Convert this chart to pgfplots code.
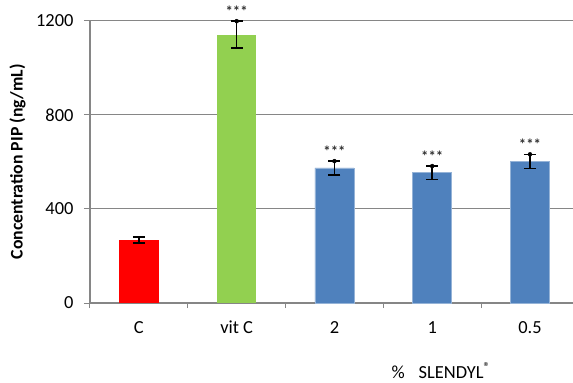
\documentclass[border=0pt]{standalone}
\usepackage{pgfplots}
\pgfplotsset{compat=1.18}
\usepackage{fontspec}
\setmainfont{Carlito}
\definecolor{gridgray}{HTML}{868686}
\definecolor{cred}{HTML}{FF0000}
\definecolor{cgreen}{HTML}{92D050}
\definecolor{cblue}{HTML}{4F81BD}
\definecolor{starcol}{HTML}{303030}
\begin{document}
\begin{tikzpicture}
\begin{axis}[
  scale only axis, width=483bp, height=282.3bp,
  xmin=-0.5, xmax=4.44, ymin=0, ymax=1200,
  clip=false,
  axis x line=bottom, axis y line=left,
  axis line style={-, draw=gridgray, line width=1.2bp},
  ytick={0,400,800,1200}, ymajorgrids,
  grid style={gridgray, line width=1bp},
  xtick={0,1,2,3,4}, xticklabels={C, vit C, 2, 1, 0.5},
  minor xtick={-0.5,0.5,1.5,2.5,3.5},
  x tick style={draw=none},
  minor x tick style={draw=gridgray, line width=1bp},
  y tick style={draw=gridgray, line width=1bp},
  tick align=outside, major tick length=6bp, minor tick length=5bp,
  tick label style={font=\fontsize{18.5}{21}\selectfont, text=black},
  /pgf/number format/assume math mode=true,
  /pgf/number format/1000 sep={},
  x tick label style={anchor=base, yshift=-24bp},
  y tick label style={xshift=-7bp},
  ylabel={Concentration PIP (ng/mL)},
  ylabel style={at={(axis description cs:-0.1501,0.5)}, anchor=center, font=\bfseries\fontsize{17.8}{20}\selectfont},
  xlabel={\%\hspace{14bp}SLENDYL\textsuperscript{®}},
  xlabel style={at={(axis description cs:0.617,-0.2657)}, anchor=base west, font=\fontsize{18.5}{21}\selectfont},
  error bars/y dir=both, error bars/y explicit,
  error bars/error bar style={line width=1.5bp, black},
  error bars/error mark options={rotate=90, mark size=6bp, line width=1.5bp, black},
]
\addplot[ybar, bar width=0.41, bar shift=0pt, fill=cred, draw=none]
  coordinates {(0,268) +- (0,13)};
\addplot[ybar, bar width=0.405, bar shift=0pt, fill=cgreen, draw=none]
  coordinates {(1,1141) +- (0,57)};
\addplot[ybar, bar width=0.40, bar shift=0pt, fill=cblue, draw=cblue!60!white, line width=0.6bp]
  coordinates {(2,574) +- (0,29) (3,554) +- (0,28) (4,602) +- (0,30)};
\addplot[only marks, mark=*, mark options={draw=none, fill=none},
  error bars/y dir=none,
  nodes near coords={***}, nodes near coords align={anchor=base},
  every node near coord/.append style={yshift=4.5bp, font=\bfseries\fontsize{14.8}{16}\selectfont, text=starcol}]
  coordinates {(1,1198) (2,603) (3,582) (4,632)};
\coordinate (o) at (rel axis cs:0,0);
\end{axis}
\pgfresetboundingbox
\path ([xshift=-90bp,yshift=-80bp]o) rectangle ([xshift=483bp,yshift=303bp]o);
\end{tikzpicture}
\end{document}
